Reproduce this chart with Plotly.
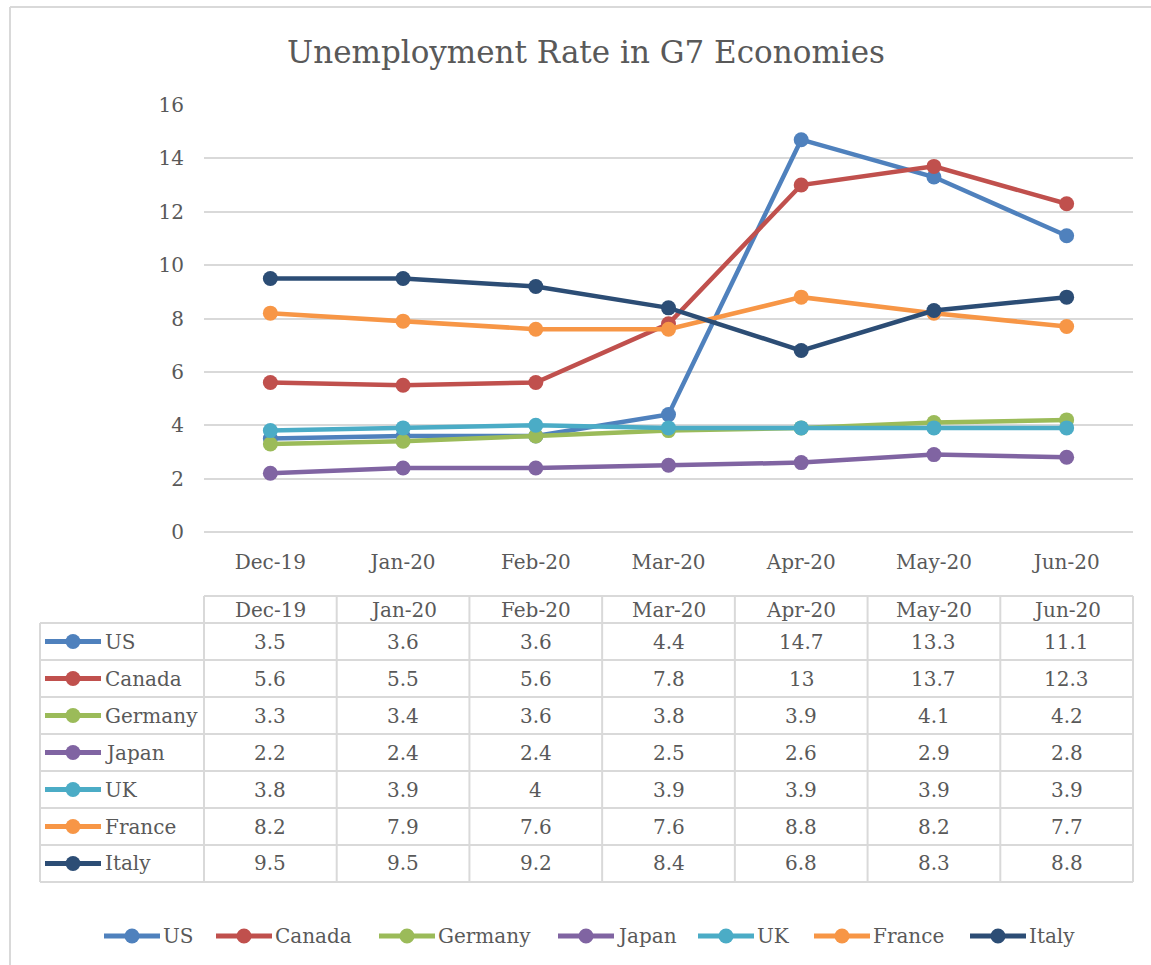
import plotly.graph_objects as go

# Monthly unemployment rate (%) for the G7 economies
months = ["Dec-19", "Jan-20", "Feb-20", "Mar-20", "Apr-20", "May-20", "Jun-20"]
us = [3.5, 3.6, 3.6, 4.4, 14.7, 13.3, 11.1]
canada = [5.6, 5.5, 5.6, 7.8, 13, 13.7, 12.3]
germany = [3.3, 3.4, 3.6, 3.8, 3.9, 4.1, 4.2]
japan = [2.2, 2.4, 2.4, 2.5, 2.6, 2.9, 2.8]
uk = [3.8, 3.9, 4, 3.9, 3.9, 3.9, 3.9]
france = [8.2, 7.9, 7.6, 7.6, 8.8, 8.2, 7.7]
italy = [9.5, 9.5, 9.2, 8.4, 6.8, 8.3, 8.8]
y_ticks = [0, 2, 4, 6, 8, 10, 12, 14, 16]

countries = ["US", "Canada", "Germany", "Japan", "UK", "France", "Italy"]
values = [us, canada, germany, japan, uk, france, italy]
colors = ["#4F81BD", "#C0504D", "#9BBB59", "#8064A2", "#4BACC6", "#F79646", "#2C4D75"]

W, H = 1151, 965
L, R, T, B = 204, 1133, 105, 532      # plot area in pixels
FONT = "DejaVu Serif"
TXT = "#595959"
GRID = "#D9D9D9"


def px(x):
    return (x - L) / (R - L)


def py(y):
    return (B - y) / (B - T)


fig = go.Figure()
for name, vals, col in zip(countries, values, colors):
    fig.add_trace(go.Scatter(
        x=months, y=vals, name=name, mode="lines+markers",
        line=dict(color=col, width=4.5),
        marker=dict(color=col, size=15),
        showlegend=False,
    ))

shapes = []
annotations = []


def legend_key(x_start, yc, col, length=56):
    """Line-with-marker key, as used in the table and the legend row."""
    shapes.append(dict(type="line", xref="paper", yref="paper",
                       x0=px(x_start), x1=px(x_start + length), y0=py(yc), y1=py(yc),
                       line=dict(color=col, width=5)))
    xc = x_start + length / 2
    shapes.append(dict(type="circle", xref="paper", yref="paper",
                       x0=px(xc - 7.5), x1=px(xc + 7.5), y0=py(yc + 7.5), y1=py(yc - 7.5),
                       fillcolor=col, line=dict(color=col, width=0)))


# outer chart frame
shapes.append(dict(type="line", xref="paper", yref="paper",
                   x0=px(10), x1=px(1160), y0=py(7), y1=py(7),
                   line=dict(color=GRID, width=2)))
shapes.append(dict(type="line", xref="paper", yref="paper",
                   x0=px(10), x1=px(10), y0=py(7), y1=py(975),
                   line=dict(color=GRID, width=2)))

# data table below the axis
tbl_top, hdr_bot, row_h = 596, 623, 37
tbl_left = 40
n_rows = len(countries)
tbl_bot = hdr_bot + row_h * n_rows
col_w = (R - L) / len(months)

# horizontal rules
shapes.append(dict(type="line", xref="paper", yref="paper",
                   x0=px(L), x1=px(R), y0=py(tbl_top), y1=py(tbl_top),
                   line=dict(color=GRID, width=2)))
for i in range(n_rows + 1):
    yy = hdr_bot + row_h * i
    shapes.append(dict(type="line", xref="paper", yref="paper",
                       x0=px(tbl_left), x1=px(R), y0=py(yy), y1=py(yy),
                       line=dict(color=GRID, width=2)))
# vertical rules
shapes.append(dict(type="line", xref="paper", yref="paper",
                   x0=px(tbl_left), x1=px(tbl_left), y0=py(hdr_bot), y1=py(tbl_bot),
                   line=dict(color=GRID, width=2)))
for j in range(len(months) + 1):
    xx = L + col_w * j
    shapes.append(dict(type="line", xref="paper", yref="paper",
                       x0=px(xx), x1=px(xx), y0=py(tbl_top), y1=py(tbl_bot),
                       line=dict(color=GRID, width=2)))

# header cells
for m in months:
    annotations.append(dict(x=m, xref="x", y=py((tbl_top + hdr_bot) / 2), yref="paper",
                            text=m, showarrow=False, xanchor="center", yanchor="middle",
                            font=dict(family=FONT, size=20, color=TXT)))

# series rows: key, name, values
for i, (name, vals, col) in enumerate(zip(countries, values, colors)):
    yc = hdr_bot + row_h * i + row_h / 2
    legend_key(45, yc, col, 56)
    annotations.append(dict(x=px(103), xref="paper", y=py(yc), yref="paper",
                            text=name, showarrow=False, xanchor="left", yanchor="middle",
                            font=dict(family=FONT, size=20, color=TXT)))
    for m, v in zip(months, vals):
        annotations.append(dict(x=m, xref="x", y=py(yc), yref="paper",
                                text=f"{v:g}", showarrow=False,
                                xanchor="center", yanchor="middle",
                                font=dict(family=FONT, size=20, color=TXT)))

# legend row along the bottom
legend_x = [104, 216, 379, 558, 698, 814, 970]
legend_y = 936
for name, col, x0 in zip(countries, colors, legend_x):
    legend_key(x0, legend_y, col, 56)
    annotations.append(dict(x=px(x0 + 57), xref="paper", y=py(legend_y), yref="paper",
                            text=name, showarrow=False, xanchor="left", yanchor="middle",
                            font=dict(family=FONT, size=20, color=TXT)))

fig.update_layout(
    width=W, height=H,
    margin=dict(l=L, r=W - R, t=T, b=H - B),
    paper_bgcolor="white", plot_bgcolor="white",
    font=dict(family=FONT, color=TXT, size=20),
    showlegend=False,
    title=dict(text="Unemployment Rate in G7 Economies",
               x=586 / W, xref="container", xanchor="center",
               y=1 - 52 / H, yref="container", yanchor="middle",
               font=dict(family=FONT, size=31, color=TXT)),
    xaxis=dict(type="category", range=[-0.5, len(months) - 0.5],
               showgrid=False, showline=False, zeroline=False,
               ticks="", ticklabelstandoff=16,
               tickfont=dict(family=FONT, size=20, color=TXT)),
    yaxis=dict(range=[0, 16], tickvals=y_ticks, showgrid=True, gridcolor=GRID,
               gridwidth=1.5, zeroline=True, zerolinecolor=GRID, zerolinewidth=1.5,
               showline=False, ticks="", ticklabelstandoff=19,
               tickfont=dict(family=FONT, size=20, color=TXT)),
    shapes=shapes,
    annotations=annotations,
)

fig.write_html("out.html")
